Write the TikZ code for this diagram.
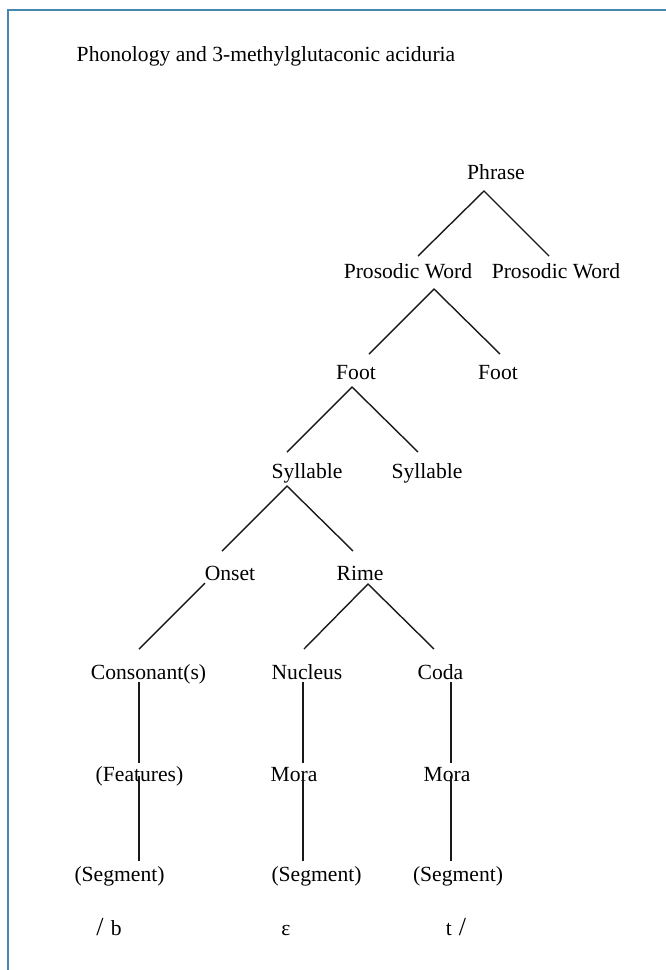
\documentclass[tikz,border=0pt]{standalone}
\usepackage{fontspec}
\setmainfont{Liberation Serif}
\definecolor{framecol}{RGB}{70,135,175}
\begin{document}
\begin{tikzpicture}[x=1pt,y=-1pt,
  lbl/.style={anchor=base,inner sep=0pt,font=\fontsize{21.6}{26}\selectfont},
  edge/.style={draw=black!90,line width=1.4pt},
  frame/.style={draw=framecol,line width=2pt}]
\useasboundingbox (0,0) rectangle (665,970);
% frame
\coordinate (fb) at (7.5,971);
\coordinate (fc) at (7.5,9.5);
\coordinate (fr) at (666,9.5);
\draw[frame] (fb) -- (fc) -- (fr);
% title
\node[lbl] (title) at (266,61) {Phonology and 3-methylglutaconic aciduria};
% nodes
\node[lbl] (phrase) at (496,179) {Phrase};
\node[lbl] (pw1) at (408,278) {Prosodic Word};
\node[lbl] (pw2) at (556,278) {Prosodic Word};
\node[lbl] (ft1) at (356,379) {Foot};
\node[lbl] (ft2) at (498,379) {Foot};
\node[lbl] (sy1) at (307,478) {Syllable};
\node[lbl] (sy2) at (427,478) {Syllable};
\node[lbl] (ons) at (230,580) {Onset};
\node[lbl] (rime) at (360,580) {Rime};
\node[lbl] (cons) at (148.5,679) {Consonant(s)};
\node[lbl] (nuc) at (307,679) {Nucleus};
\node[lbl] (coda) at (440.5,679) {Coda};
\node[lbl] (feat) at (139.5,781) {(Features)};
\node[lbl] (mora1) at (294,781) {Mora};
\node[lbl] (mora2) at (447,781) {Mora};
\node[lbl] (seg1) at (119.5,881) {(Segment)};
\node[lbl] (seg2) at (316.5,881) {(Segment)};
\node[lbl] (seg3) at (458,881) {(Segment)};
\node[lbl] (ph1) at (109,935) {{\fontsize{26}{30}\selectfont/}\,\,b};
\node[lbl] (ph2) at (286,935) {ε};
\node[lbl] (ph3) at (456,935) {t\,\,{\fontsize{26}{30}\selectfont/}};
% connector end points
\coordinate (phA) at (484,191);
\coordinate (pw1T) at (418,256);
\coordinate (pw2T) at (549,256);
\coordinate (pwA) at (434,289);
\coordinate (ft1T) at (369,354);
\coordinate (ft2T) at (500,354);
\coordinate (ftA) at (352,387);
\coordinate (sy1T) at (287,452);
\coordinate (sy2T) at (418,452);
\coordinate (syA) at (287,486);
\coordinate (onsT) at (222,551);
\coordinate (rimeT) at (353,551);
\coordinate (onsA) at (205,583);
\coordinate (consT) at (139,649);
\coordinate (rimeA) at (368,584);
\coordinate (nucT) at (304,649);
\coordinate (codaT) at (434,649);
\coordinate (consB) at (139,682);
\coordinate (featT) at (139,763);
\coordinate (featB) at (139,776);
\coordinate (seg1T) at (139,861);
\coordinate (nucB) at (303,682);
\coordinate (mora1T) at (303,763);
\coordinate (mora1B) at (303,776);
\coordinate (seg2T) at (303,861);
\coordinate (codaB) at (451,682);
\coordinate (mora2T) at (451,763);
\coordinate (mora2B) at (451,776);
\coordinate (seg3T) at (451,861);
% connectors
\draw[edge] (pw1T) -- (phA) -- (pw2T);
\draw[edge] (ft1T) -- (pwA) -- (ft2T);
\draw[edge] (sy1T) -- (ftA) -- (sy2T);
\draw[edge] (onsT) -- (syA) -- (rimeT);
\draw[edge] (onsA) -- (consT);
\draw[edge] (nucT) -- (rimeA) -- (codaT);
\draw[edge] (consB) -- (featT);
\draw[edge] (featB) -- (seg1T);
\draw[edge] (nucB) -- (mora1T);
\draw[edge] (mora1B) -- (seg2T);
\draw[edge] (codaB) -- (mora2T);
\draw[edge] (mora2B) -- (seg3T);
\end{tikzpicture}
\end{document}
